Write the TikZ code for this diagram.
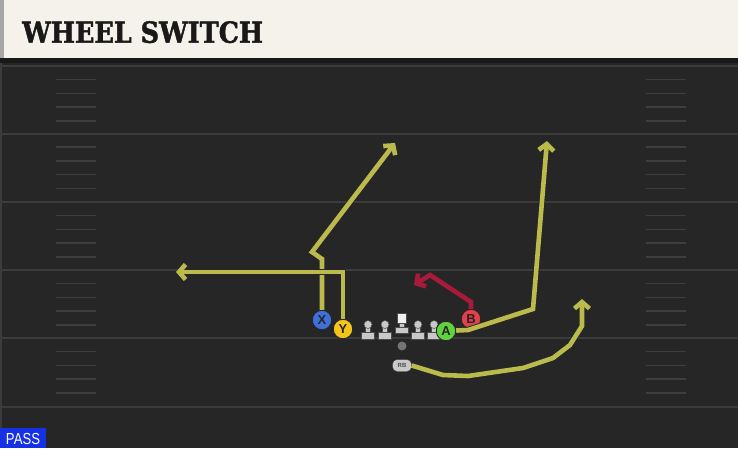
\documentclass[tikz,border=0pt]{standalone}
\usepackage{fontspec}
\setmainfont{Liberation Sans}
\newfontfamily\titlefont{DejaVu Serif}[BoldFeatures = {FakeBold = 1.6}]
\usepackage{tikz}
\usetikzlibrary{positioning, calc, arrows.meta}

\definecolor{field}{HTML}{262626}
\definecolor{fieldline}{HTML}{3B3B3B}
\definecolor{hashline}{HTML}{3E3E3E}
\definecolor{titlebg}{HTML}{F4F2EB}
\definecolor{routegold}{HTML}{BABB4C}
\definecolor{routered}{HTML}{A81A3A}
\definecolor{xblue}{HTML}{3F6FD8}
\definecolor{yyellow}{HTML}{F5C41C}
\definecolor{agreen}{HTML}{60D23E}
\definecolor{bred}{HTML}{E2404B}
\definecolor{passblue}{HTML}{1431E6}
\definecolor{olgray}{HTML}{C9C9C9}

\tikzset{
  player/.style = {circle, draw = black!85, line width = 0.9pt, minimum size = 19.5pt,
    inner sep = 0pt, font = \bfseries\fontsize{13}{13}\selectfont, text = black!85},
  route/.style = {draw = routegold, line width = 4.6pt,
    preaction = {draw = black!85, line width = 6.4pt},
    -{Straight Barb[length = 6.5pt, width = 15pt]}},
  redroute/.style = {route, draw = routered},
  hash/.style = {draw = hashline, line width = 1.5pt},
  lineman/.style = {fill = olgray, draw = black!70, line width = 0.5pt}
}

\begin{document}
\begin{tikzpicture}[x = 1pt, y = -1pt]
        \useasboundingbox (0,0) rectangle (738,448);
        \fill [field] (0,0) rectangle (738,448);
        % title bar
        \fill [black!90] (0,58) rectangle (738,63);
        \fill [titlebg] (0,0) rectangle (738,58);
        \fill [black!35] (0,0) rectangle (4,58);
        \node (title) [anchor = base west, inner sep = 0pt, text = black!90,
        xscale = 0.88, font = \titlefont\bfseries\fontsize{29}{29}\selectfont]
        at (22,42.7) {WHEEL SWITCH};
        \fill [fieldline] (0,63) rectangle (2,428);
        % yard lines and hashes
        \foreach \yl in {66,133.5,202,270,338,407}
            \draw [fieldline, line width = 2pt] (0,\yl) -- (738,\yl);
        \foreach \yl in {66,133.5,202,270,338} {
            \foreach \dy in {13.5,27.5,41,55} {
                \draw [hash] (56,\yl+\dy) -- (96,\yl+\dy);
                \draw [hash] (646,\yl+\dy) -- (686,\yl+\dy);
            }
        }

        % line
        \foreach \lx in {368,385,418,434} {
            \filldraw [lineman] (\lx-6.5,332.5) rectangle (\lx+6.5,339.5);
            \filldraw [lineman] (\lx-2.5,326) rectangle (\lx+2.5,332.5);
            \filldraw [lineman] (\lx,324.5) circle (4);
        }
        \filldraw [lineman] (395,327) rectangle (408,333.5);
        \filldraw [lineman] (399,322) rectangle (404,327);
        \filldraw [fill = white!94!black, draw = black!70, line width = 0.5pt]
        (397,313.5) rectangle (406.5,323);
        \fill [black!55] (402,346) circle (4.5);

        % players
        \node (X) [player, fill = xblue] at (322,320) {X};
        \node (Y) [player, fill = yyellow] at (343,329) {Y};
        \node (A) [player, fill = agreen] at (446,331) {A};
        \node (B) [player, fill = bred] at (471,319) {B};
        \node (RB) [draw = black!80, fill = olgray, rounded corners = 4.5pt,
        minimum width = 19pt, minimum height = 12pt, inner sep = 0pt,
        font = \bfseries\fontsize{6}{6}\selectfont, text = black!70]
        at (402,365.5) {RB};

        % route points
        \coordinate (xstem) at (322,259);
        \coordinate (xcut) at (312,252);
        \coordinate (xend) at (395,143);
        \coordinate (ycorner) at (343,272);
        \coordinate (yend) at (176,272);
        \coordinate (bstem) at (471,302);
        \coordinate (bcorner) at (430,275);
        \coordinate (bend) at (414,285);
        \coordinate (aflat) at (468,330);
        \coordinate (abreak) at (533,309);
        \coordinate (aend) at (547,141);
        \coordinate (rbend) at (582,299);

        % routes
        \draw [route] (X) -- (xstem) -- (xcut) -- (xend);
        \draw [route] (Y) -- (ycorner) -- (yend);
        \draw [redroute] (B) -- (bstem) -- (bcorner) -- (bend);
        \draw [route] (A) -- (aflat) -- (abreak) -- (aend);
        \draw [route] (RB.east) -- (443,375) -- (468,376) -- (523,368) --
        (553,358) -- (570,345) -- (582,326) -- (rbend);

        % play type
        \fill [passblue] (0,428) rectangle (46,448);
        \node (pass) [text = white, inner sep = 0pt, xscale = 0.82,
        font = \fontsize{16}{16}\selectfont] at (23,438.5) {PASS};
    \end{tikzpicture}
\end{document}
